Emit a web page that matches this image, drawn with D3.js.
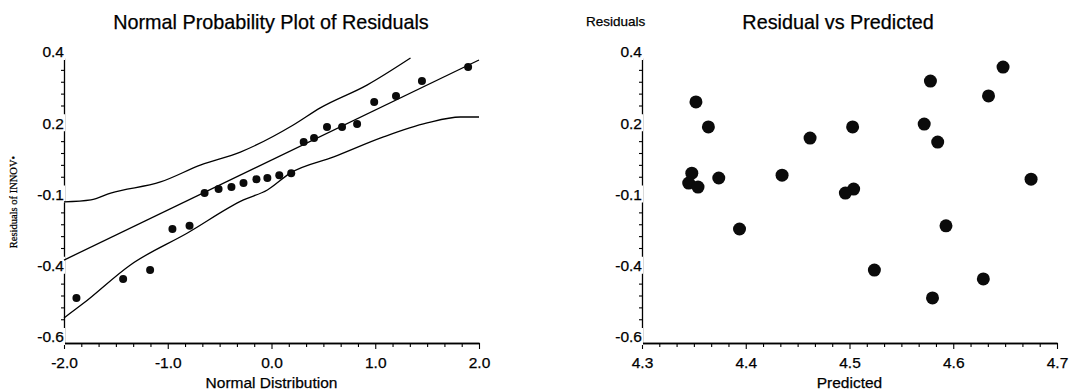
<!DOCTYPE html>
<html>
<head>
<meta charset="utf-8">
<script src="https://cdn.jsdelivr.net/npm/d3@7"></script>
<style>
  html, body { margin: 0; padding: 0; background: #fff; }
  svg { display: block; }
  text { font-family: "Liberation Sans", Arial, sans-serif; fill: #000; stroke: #000; stroke-width: 0.25px; }
</style>
</head>
<body>
<svg id="chart" width="1089" height="392"></svg>
<script>
// Normal scores (x) and ordered residuals (y) for the probability plot
const normalScores = [-1.88, -1.43, -1.17, -0.955, -0.79, -0.645, -0.51, -0.386, -0.27, -0.145, -0.04,
                      0.075, 0.19, 0.31, 0.41, 0.535, 0.68, 0.825, 0.99, 1.20, 1.45, 1.895];
const sortedResiduals = [-0.442, -0.375, -0.344, -0.200, -0.189, -0.074, -0.060, -0.053, -0.039, -0.025, -0.021,
                         -0.011, -0.004, 0.105, 0.119, 0.158, 0.158, 0.168, 0.246, 0.267, 0.319, 0.368];

// Fitted reference line and confidence envelope of the probability plot
const fitLine = [[-2.0, -0.309], [2.0, 0.393]];
const upperBand = [[-2.0, -0.105], [-1.74, -0.098], [-1.55, -0.074], [-1.07, -0.035], [-0.68, 0.025],
                   [-0.30, 0.070], [0.21, 0.165], [0.47, 0.225], [0.92, 0.305], [1.34, 0.400]];
const lowerBand = [[-2.0, -0.512], [-1.81, -0.460], [-1.36, -0.326], [-0.81, -0.214], [-0.27, -0.098],
                   [-0.04, -0.063], [0.18, -0.004], [0.60, 0.053], [1.08, 0.123], [1.50, 0.172],
                   [1.82, 0.193], [2.0, 0.193]];

// Predicted values and their residuals
const predicted = [4.648, 4.578, 4.634, 4.352, 4.572, 4.364, 4.503, 4.462, 4.585, 4.348, 4.435,
                   4.374, 4.675, 4.345, 4.354, 4.504, 4.496, 4.593, 4.394, 4.524, 4.629, 4.580];
const residuals = [0.368, 0.319, 0.267, 0.246, 0.168, 0.158, 0.158, 0.119, 0.105, -0.004, -0.011,
                   -0.021, -0.025, -0.039, -0.053, -0.060, -0.074, -0.189, -0.200, -0.344, -0.375, -0.442];

// Axis ticks
const yTickValues = [0.4, 0.15, -0.1, -0.35, -0.6];
const yTickLabels = ["0.4", "0.2", "-0.1", "-0.4", "-0.6"];
const xTicksNormal = [-2, -1, 0, 1, 2];
const xTicksPredicted = [4.3, 4.4, 4.5, 4.6, 4.7];

const svg = d3.select("#chart");

function minorTicks(majors, n) {
  const out = [];
  for (let i = 0; i < majors.length - 1; i++) {
    const a = majors[i], b = majors[i + 1];
    for (let k = 1; k < n; k++) out.push(a + (b - a) * k / n);
  }
  return out;
}

function panel(opts) {
  const g = svg.append("g");
  const x = d3.scaleLinear().domain(opts.xDomain).range(opts.xRange);
  const y = d3.scaleLinear().domain([-0.6, 0.4]).range([343, 58]);
  const y0 = y(-0.6), x0 = opts.xRange[0];

  // x axis: minor + major ticks pointing down
  const xMinor = minorTicks(opts.xTicks, 6);
  const gx = g.append("g").attr("transform", `translate(0,${y0})`);
  gx.call(d3.axisBottom(x).tickValues(xMinor).tickSize(4).tickSizeOuter(0).tickFormat(""));
  gx.append("g").call(d3.axisBottom(x).tickValues(opts.xTicks).tickSize(6).tickSizeOuter(0)
      .tickFormat((d, i) => opts.xLabels[i]));
  gx.selectAll("path.domain").attr("stroke", "#000").attr("stroke-width", 1.3);
  gx.selectAll("line").attr("stroke", "#000").attr("stroke-width", 1.1);
  gx.selectAll("text").attr("font-size", 15.5).attr("dy", "0.95em").attr("y", 10)
      .style("font-family", "Liberation Sans, Arial, sans-serif");

  // y axis: minor ticks pointing left
  const yMinor = minorTicks(yTickValues.slice().reverse(), 6);
  const gy = g.append("g").attr("transform", `translate(${x0},0)`);
  gy.call(d3.axisLeft(y).tickValues(yMinor).tickSize(3).tickSizeOuter(0).tickFormat(""));
  gy.selectAll("path.domain").attr("stroke", "#000").attr("stroke-width", 1.3);
  gy.selectAll("line").attr("stroke", "#000").attr("stroke-width", 1.1);

  // y tick labels sit on the axis line, masking it behind a white box
  const lab = gy.selectAll("g.ylab").data(yTickValues).join("g").attr("class", "ylab")
      .attr("transform", d => `translate(0,${y(d) - 6})`);
  lab.append("rect").attr("x", -28).attr("y", -9).attr("width", 29).attr("height", 17).attr("fill", "#fff");
  lab.append("text").attr("x", 0).attr("dy", "0.35em").attr("text-anchor", "end")
      .attr("font-size", 15.5).text((d, i) => yTickLabels[i]);

  // titles
  g.append("text").attr("x", opts.titleX).attr("y", 29).attr("text-anchor", "middle")
      .attr("font-size", 19.8).text(opts.title);
  g.append("text").attr("x", (opts.xRange[0] + opts.xRange[1]) / 2).attr("y", 388)
      .attr("text-anchor", "middle").attr("font-size", 15.5).text(opts.xTitle);
  return { g, x, y };
}

// Left: normal probability plot
const L = panel({
  xDomain: [-2, 2], xRange: [64, 479], xTicks: xTicksNormal,
  xLabels: ["-2.0", "-1.0", "0.0", "1.0", "2.0"],
  title: "Normal Probability Plot of Residuals", titleX: 271, xTitle: "Normal Distribution"
});
const line = d3.line().x(d => L.x(d[0])).y(d => L.y(d[1]));
const curve = d3.line().curve(d3.curveMonotoneX).x(d => L.x(d[0])).y(d => L.y(d[1]));
L.g.append("path").attr("d", line(fitLine)).attr("fill", "none").attr("stroke", "#000").attr("stroke-width", 1.3);
L.g.append("path").attr("d", curve(upperBand)).attr("fill", "none").attr("stroke", "#000").attr("stroke-width", 1.3);
L.g.append("path").attr("d", curve(lowerBand)).attr("fill", "none").attr("stroke", "#000").attr("stroke-width", 1.3);
L.g.selectAll("circle").data(normalScores).join("circle")
  .attr("cx", d => L.x(d)).attr("cy", (d, i) => L.y(sortedResiduals[i]))
  .attr("r", 4).attr("fill", "#0b0b0b");
L.g.append("text").attr("transform", "translate(17,202) rotate(-90)")
  .attr("text-anchor", "middle").attr("font-size", 10.5)
  .style("font-family", "Liberation Serif, 'Times New Roman', serif")
  .text("Residuals of INNOV•");

// Right: residual vs predicted
const R = panel({
  xDomain: [4.3, 4.7], xRange: [642, 1057], xTicks: xTicksPredicted,
  xLabels: ["4.3", "4.4", "4.5", "4.6", "4.7"],
  title: "Residual vs Predicted", titleX: 838, xTitle: "Predicted"
});
R.g.append("text").attr("x", 586).attr("y", 26).attr("font-size", 13.5).text("Residuals");
R.g.selectAll("circle").data(predicted).join("circle")
  .attr("cx", d => R.x(d)).attr("cy", (d, i) => R.y(residuals[i]))
  .attr("r", 6.5).attr("fill", "#0b0b0b");
</script>
</body>
</html>
